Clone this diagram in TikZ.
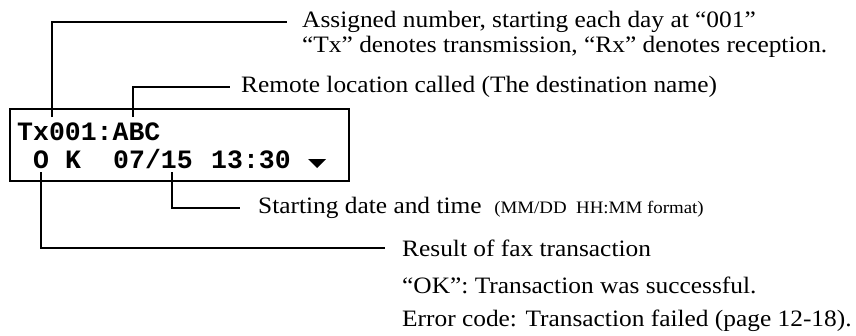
\documentclass[tikz,border=0pt]{standalone}
\usepackage{fontspec}
\setmainfont{Liberation Serif}[FakeStretch=1.08]
\setmonofont{Liberation Mono}
\usetikzlibrary{positioning}
\tikzset{
  lcdbox/.style={draw, line width=2.4pt, inner sep=0pt},
  lcdtext/.style={font=\fontsize{26.5}{26}\selectfont\ttfamily\bfseries, inner sep=0pt, anchor=base west},
  note/.style={font=\fontsize{23.5}{24}\selectfont, anchor=west, inner xsep=0pt, inner ysep=1pt},
  leader/.style={line width=1.8pt},
}
\newcommand{\fmtsmall}{\fontsize{17.5}{16}\selectfont}

\begin{document}
\begin{tikzpicture}[x=1pt,y=-1pt]
  \useasboundingbox (0,0) rectangle (856,335);

  % LCD display
  \node[lcdbox, minimum width=339pt, minimum height=72pt, anchor=north west] (lcd) at (9,108) {};
  \node[lcdtext] (txno) at (17,140) {Tx001:ABC};
  \node[lcdtext] (okO) at (33,168) {O};
  \node[lcdtext] (okK) at (65,168) {K};
  \node[lcdtext] (date) at (113,168) {07/15};
  \node[lcdtext] (time) at (211,168) {13:30};
  \fill (308,159) -- (326,159) -- (317,168) -- cycle;

  % leader feet
  \coordinate (numfoot) at (52,117);
  \coordinate (namefoot) at (133,117);
  \coordinate (datefoot) at (172,172);
  \coordinate (resfoot) at (41,172);

  % notes
  \node[note] (assigned) at (302,22) {Assigned number, starting each day at “001”};
  \node[note] (txrx) at (302,47) {“Tx” denotes transmission, “Rx” denotes reception.};
  \node[note] (remote) at (241,87) {Remote location called (The destination name)};
  \node[note] (start) at (258,208) {Starting date and time\ \ {\fmtsmall(MM/DD\ \ HH:MM format)}};
  \node[note] (result) at (402,248) {Result of fax transaction};
  \node[note] (okcode) at (402,285) {“OK”: Transaction was successful.};
  \node[note] (errcode) at (402,321) {Error code: Transaction failed (page 12-18).};

  \draw[leader] (numfoot) |- ([xshift=-15pt]assigned.west);
  \draw[leader] (namefoot) |- ([xshift=-11pt]remote.west);
  \draw[leader] (datefoot) |- ([xshift=-18pt]start.west);
  \draw[leader] (resfoot) |- ([xshift=-17pt]result.west);

\end{tikzpicture}
\end{document}
